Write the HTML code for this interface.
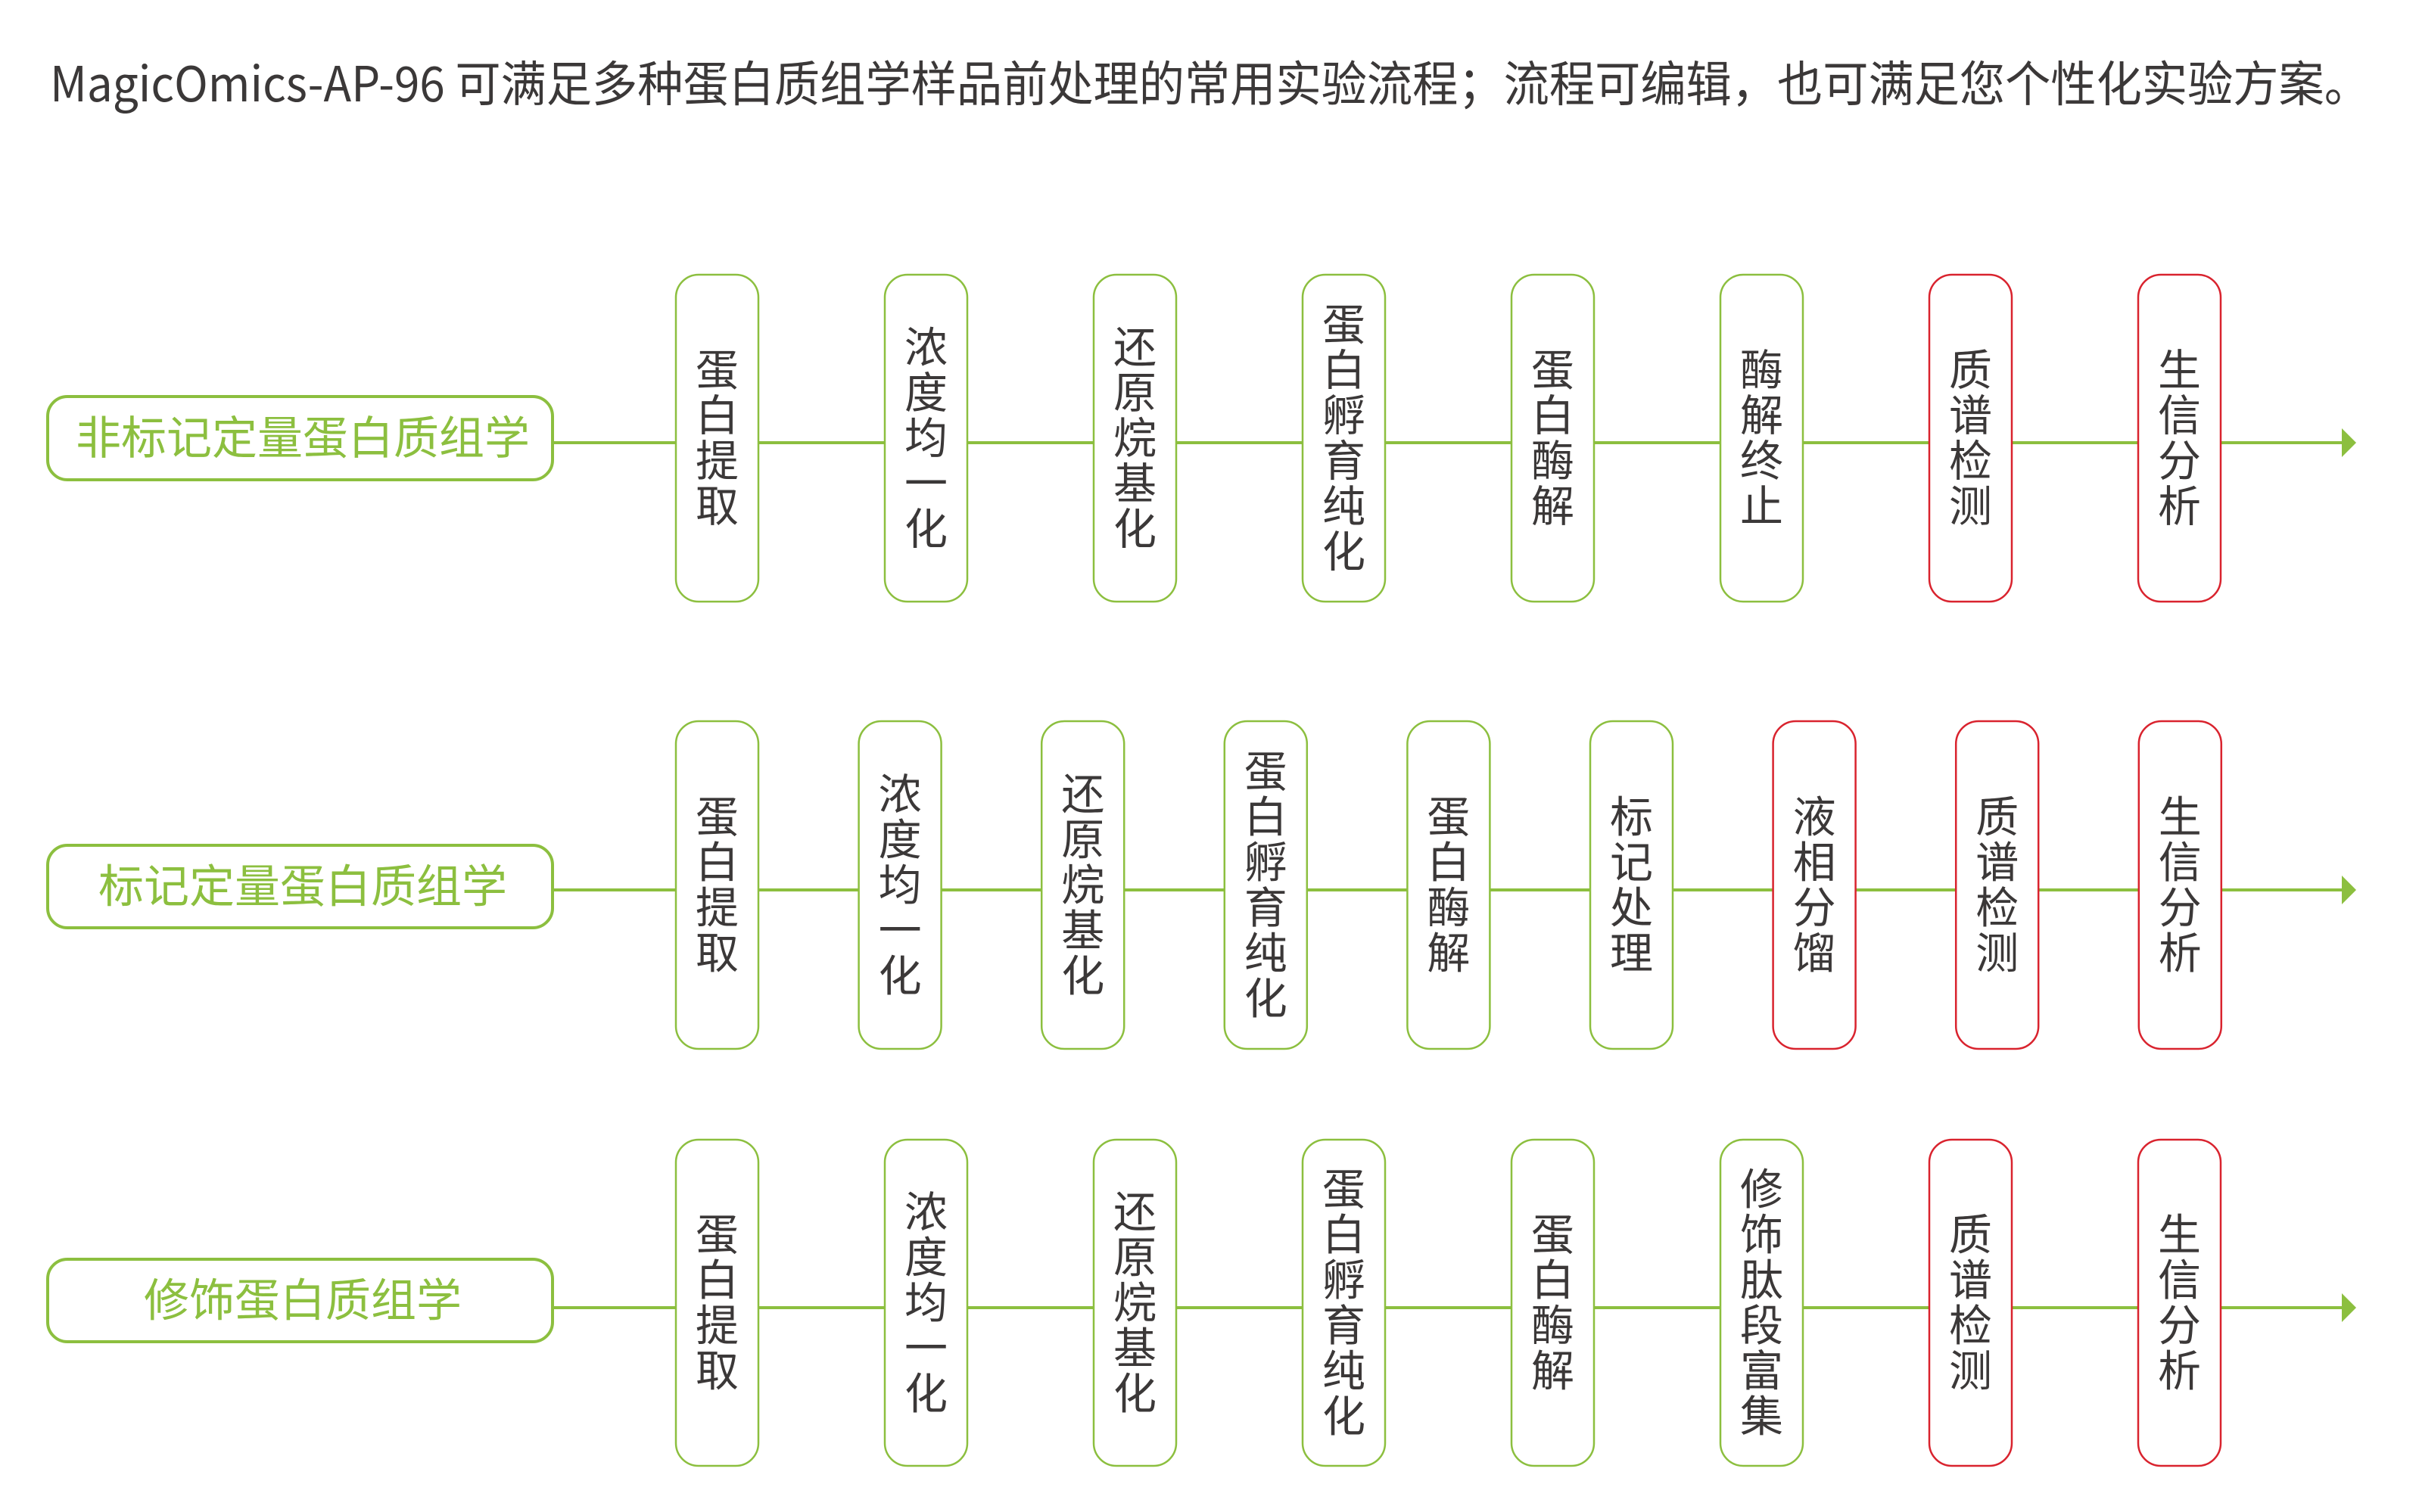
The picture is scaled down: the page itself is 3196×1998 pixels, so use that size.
<!DOCTYPE html>
<html><head><meta charset="utf-8"><style>
html,body{margin:0;padding:0;background:#fff;width:3196px;height:1998px;overflow:hidden}
svg{display:block}
text{font-family:"Liberation Sans","Noto Sans CJK SC",sans-serif}
.c{font-family:"Noto Sans CJK SC","WenQuanYi Zen Hei",sans-serif}
</style></head><body>
<svg id="s" width="3196" height="1998" viewBox="0 0 3196 1998" xmlns="http://www.w3.org/2000/svg">
<text class="c" x="66" y="134" font-size="64" fill="#3b3838" textLength="3065" lengthAdjust="spacingAndGlyphs">MagicOmics-AP-96 可满足多种蛋白质组学样品前处理的常用实验流程；流程可编辑，也可满足您个性化实验方案。</text>
</svg>
<script>
const G="#8cbf3f",R="#d9232e",T="#3b3838";
const s=document.getElementById('s');
const NS="http://www.w3.org/2000/svg";
function el(t,a,txt){const e=document.createElementNS(NS,t);for(const k in a)e.setAttribute(k,a[k]);if(txt)e.textContent=txt;s.appendChild(e);return e;}
const rows=[
 {ly:585,top:363,bot:795,lt:524,lb:634,label:"非标记定量蛋白质组学",x0:893,dx:276,
  items:["蛋白提取","浓度均一化","还原烷基化","蛋白孵育纯化","蛋白酶解","酶解终止","*质谱检测","*生信分析"]},
 {ly:1176,top:953,bot:1386,lt:1117,lb:1226,label:"标记定量蛋白质组学",x0:893,dx:241.6,
  items:["蛋白提取","浓度均一化","还原烷基化","蛋白孵育纯化","蛋白酶解","标记处理","*液相分馏","*质谱检测","*生信分析"]},
 {ly:1728,top:1506,bot:1937,lt:1664,lb:1773,label:"修饰蛋白质组学",x0:893,dx:276,
  items:["蛋白提取","浓度均一化","还原烷基化","蛋白孵育纯化","蛋白酶解","修饰肽段富集","*质谱检测","*生信分析"]}
];
for(const r of rows){
 el('line',{x1:730,y1:r.ly,x2:3095,y2:r.ly,stroke:G,'stroke-width':4});
 el('polygon',{points:`3094,${r.ly-19} 3113,${r.ly} 3094,${r.ly+19}`,fill:G});
 el('rect',{x:63,y:r.lt,width:667,height:r.lb-r.lt,rx:26,fill:"#fff",stroke:G,'stroke-width':4});
 el('text',{x:400,y:(r.lt+r.lb)/2+21,'font-size':60,fill:G,'text-anchor':'middle','class':'c'},r.label);
 r.items.forEach((it,i)=>{
  const red=it[0]=="*";const t=red?it.slice(1):it;
  const x=r.x0+i*r.dx;
  el('rect',{x:x,y:r.top,width:109,height:r.bot-r.top,rx:30,fill:"#fff",stroke:red?R:G,'stroke-width':2.5});
  const cy=(r.top+r.bot)/2, n=t.length, p=60;
  for(let k=0;k<n;k++){
   const yc=cy+(k-(n-1)/2)*p;
   el('text',{x:x+54.5,y:yc+20,'font-size':57,fill:T,'text-anchor':'middle','class':'c'},t[k]);
  }
 });
}
</script>
</body></html>
